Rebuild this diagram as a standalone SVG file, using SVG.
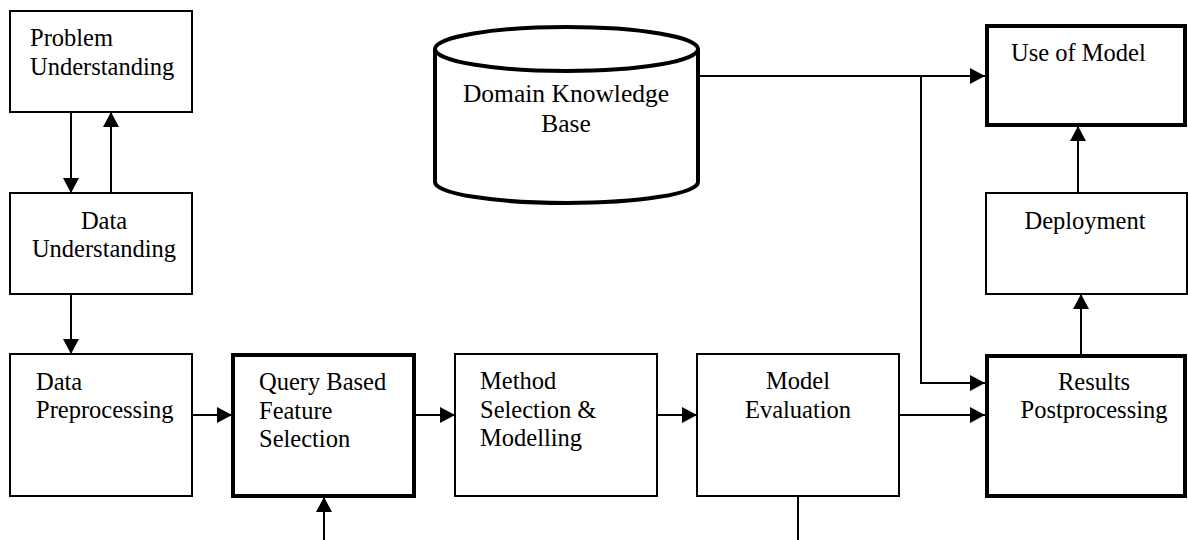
<svg xmlns="http://www.w3.org/2000/svg" width="1188" height="540" viewBox="0 0 1188 540">
<style>
.box{fill:#fff;stroke:#000;stroke-width:2}
.thick{fill:#fff;stroke:#000;stroke-width:4}
text{font-family:"Liberation Serif","Times New Roman",serif;font-size:24.5px;fill:#000}
.mid{text-anchor:middle}
.con{fill:none;stroke:#000;stroke-width:2}
</style>
<defs>
<marker id="arr" markerUnits="userSpaceOnUse" markerWidth="15" markerHeight="16" viewBox="0 0 15 16" refX="15" refY="8" orient="auto">
<path d="M0,0 L15,8 L0,16 Z" fill="#000"/>
</marker>
</defs>
<rect width="1188" height="540" fill="#fff"/>
<g id="connectors">
<line class="con" x1="71" y1="112" x2="71" y2="193" marker-end="url(#arr)"/>
<line class="con" x1="111" y1="193" x2="111" y2="112" marker-end="url(#arr)"/>
<line class="con" x1="71" y1="294" x2="71" y2="354" marker-end="url(#arr)"/>
<line class="con" x1="192" y1="415" x2="232" y2="415" marker-end="url(#arr)"/>
<line class="con" x1="324" y1="540" x2="324" y2="497" marker-end="url(#arr)"/>
<line class="con" x1="415" y1="415" x2="455" y2="415" marker-end="url(#arr)"/>
<line class="con" x1="657" y1="415" x2="697" y2="415" marker-end="url(#arr)"/>
<line class="con" x1="899" y1="415" x2="985" y2="415" marker-end="url(#arr)"/>
<line class="con" x1="798" y1="496" x2="798" y2="540"/>
<line class="con" x1="698" y1="76" x2="985" y2="76" marker-end="url(#arr)"/>
<polyline class="con" points="921,76 921,383 985,383" marker-end="url(#arr)"/>
<line class="con" x1="1081" y1="354" x2="1081" y2="294" marker-end="url(#arr)"/>
<line class="con" x1="1078" y1="193" x2="1078" y2="126" marker-end="url(#arr)"/>
</g>
<g id="problem-understanding">
<rect class="box" x="10" y="11" width="182" height="101"/>
<text x="30" y="46">Problem</text>
<text x="30" y="75">Understanding</text>
</g>
<g id="data-understanding">
<rect class="box" x="10" y="193" width="182" height="101"/>
<text class="mid" x="104" y="229">Data</text>
<text class="mid" x="104" y="257">Understanding</text>
</g>
<g id="data-preprocessing">
<rect class="box" x="10" y="354" width="182" height="142"/>
<text x="36" y="390">Data</text>
<text x="36" y="418">Preprocessing</text>
</g>
<g id="query-feature-selection">
<rect class="thick" x="233" y="355" width="181" height="141"/>
<text x="259" y="390">Query Based</text>
<text x="259" y="419">Feature</text>
<text x="259" y="447">Selection</text>
</g>
<g id="method-selection">
<rect class="box" x="455" y="354" width="202" height="142"/>
<text x="480" y="389">Method</text>
<text x="480" y="418">Selection &amp;</text>
<text x="480" y="446">Modelling</text>
</g>
<g id="model-evaluation">
<rect class="box" x="697" y="354" width="202" height="142"/>
<text class="mid" x="798" y="389">Model</text>
<text class="mid" x="798" y="418">Evaluation</text>
</g>
<g id="results-postprocessing">
<rect class="thick" x="987" y="356" width="198" height="140"/>
<text class="mid" x="1094" y="390">Results</text>
<text class="mid" x="1094" y="418">Postprocessing</text>
</g>
<g id="deployment">
<rect class="box" x="986" y="193" width="201" height="101"/>
<text class="mid" x="1085" y="229">Deployment</text>
</g>
<g id="use-of-model">
<rect class="thick" x="987" y="26" width="198" height="99"/>
<text x="1011" y="61">Use of Model</text>
</g>
<g id="domain-knowledge-base">
<path d="M435,49 L435,182 A131.5,21 0 0 0 698,182 L698,49" fill="#fff" stroke="#000" stroke-width="4"/>
<ellipse cx="566.5" cy="49" rx="131.5" ry="22" fill="#fff" stroke="#000" stroke-width="4"/>
<text class="mid" x="566" y="102" style="font-size:25.5px">Domain Knowledge</text>
<text class="mid" x="566" y="132" style="font-size:25.5px">Base</text>
</g>
</svg>
